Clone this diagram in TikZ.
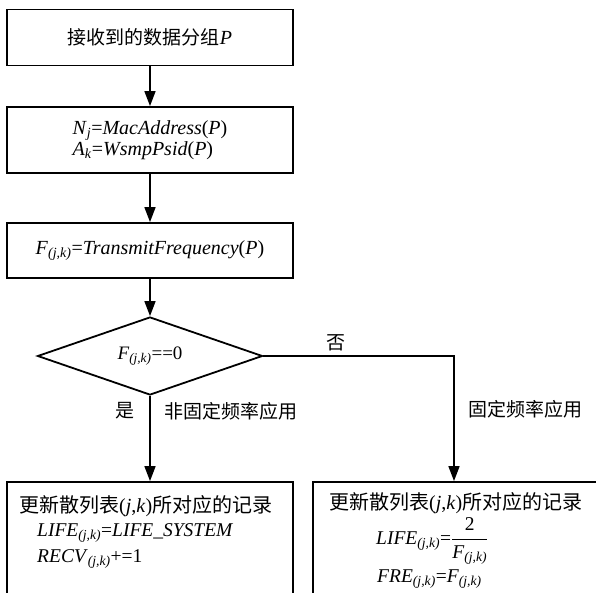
\documentclass[tikz,border=0pt]{standalone}
\usepackage{fontspec}
\setmainfont{Liberation Serif}
\newfontfamily\cjk{Noto Sans CJK SC}
\usetikzlibrary{arrows.meta,shapes.geometric}
\newcommand\jksub{\textsubscript{\textit{(j,k)}}}
\begin{document}
\begin{tikzpicture}[x=1pt,y=-1pt,
  box/.style={draw,line width=1.8pt,inner sep=0pt,
    font=\fontsize{20}{21}\selectfont},
  arr/.style={line width=1.6pt,-{Triangle[length=15pt,width=11pt]}},
  lab/.style={font=\cjk\fontsize{19}{20}\selectfont,inner sep=0pt},
  head/.style={font=\cjk\fontsize{20}{20}\selectfont,inner sep=0pt},
  txt/.style={font=\fontsize{19.5}{20}\selectfont,inner sep=0pt}
]
\useasboundingbox (0,0) rectangle (596,593);
\clip (0,0) rectangle (596,593);
% boxes
\node[box,minimum width=286pt,minimum height=56pt] (b1) at (150,37.5)
  {{\cjk\fontsize{19}{20}\selectfont 接收到的数据分组}\textit{P}};
\node[box,minimum width=286pt,minimum height=66pt,align=left] (b2) at (150,140)
  {\textit{N}\textsubscript{\textit{j}}=\textit{MacAddress}(\textit{P})\\
   \textit{A}\textsubscript{\textit{k}}=\textit{WsmpPsid}(\textit{P})};
\node[box,minimum width=286pt,minimum height=55pt] (b3) at (150,250.5)
  {\textit{F}\jksub=\textit{TransmitFrequency}(\textit{P})};
\node[box,shape=diamond,minimum width=225pt,minimum height=78pt,aspect=2.9,
  font=\fontsize{19}{20}\selectfont] (d) at (150,356)
  {\textit{F}\jksub==0};
\node[box,minimum width=286pt,minimum height=138pt] (bl) at (150,551) {};
\node[box,minimum width=327pt,minimum height=138pt] (br) at (476.5,551) {};
% box texts
\node[head,anchor=west] (tl1) at (19,506) {更新散列表\rmfamily(\textit{j},\textit{k})\cjk 所对应的记录};
\node[txt,anchor=west] (tl2) at (37,533) {\textit{LIFE}\jksub=\textit{LIFE\_SYSTEM}};
\node[txt,anchor=west] (tl3) at (37,559) {\textit{RECV}\jksub+=1};
\node[head,anchor=west] (tr1) at (329,503) {更新散列表\rmfamily(\textit{j},\textit{k})\cjk 所对应的记录};
\node[txt,anchor=west] (tr2) at (376,541) {\textit{LIFE}\jksub=$\displaystyle\frac{\textrm{2}}{\textit{F}\jksub}$};
\node[txt,anchor=west] (tr3) at (377,579) {\textit{FRE}\jksub=\textit{F}\jksub};
% labels
\node[lab] (no) at (336,343) {否};
\node[lab] (yes) at (125,411) {是};
\node[lab,anchor=west] (nf) at (164,411) {非固定频率应用};
\node[lab,anchor=west] (f) at (468,409) {固定频率应用};
% connectors
\draw[arr] (b1.south) -- (b2.north);
\draw[arr] (b2.south) -- (b3.north);
\draw[arr] (b3.south) -- (d.north);
\draw[arr] (d.south) -- (bl.north);
\draw[arr] (d.east) -| ([xshift=-22.5pt]br.north);
\end{tikzpicture}
\end{document}
